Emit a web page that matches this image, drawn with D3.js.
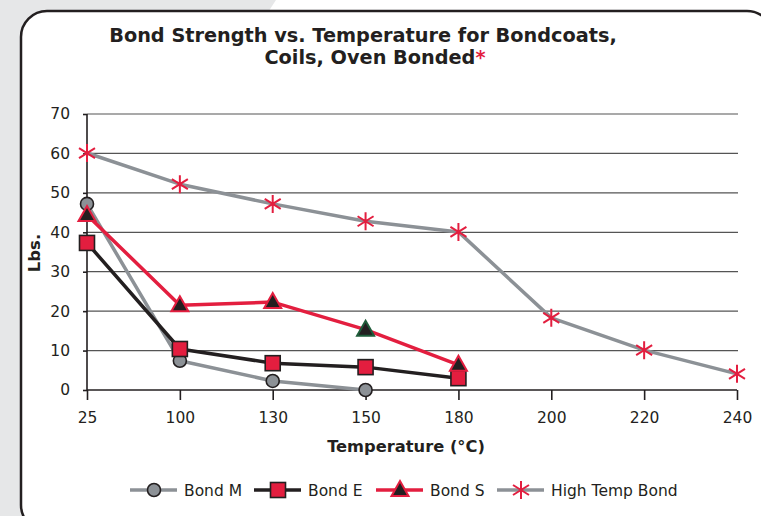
<!DOCTYPE html>
<html><head><meta charset="utf-8">
<script src="https://cdn.jsdelivr.net/npm/d3@7"></script>
<style>
html,body{margin:0;padding:0;background:#fff;}
svg{display:block;}
text{font-family:"DejaVu Sans",Verdana,sans-serif;fill:#231f20;}
</style></head>
<body>
<script>
const categories = ["25","100","130","150","180","200","220","240"];
const yTicks = [0,10,20,30,40,50,60,70];
const bondM = [47.2, 7.4, 2.3, 0];
const bondE = [37.3, 10.4, 6.8, 5.8, 3.0];
const bondS = [44.4, 21.5, 22.3, 15.3, 6.4];
const highTemp = [60.1, 52.2, 47.2, 42.8, 40.1, 18.3, 10.1, 4.1];
const seriesNames = ["Bond M","Bond E","Bond S","High Temp Bond"];

const W = 761, H = 516;
const RED = "#e31e3f", GREY = "#8c9196", DARK = "#231f20";
const svg = d3.select("body").append("svg").attr("width", W).attr("height", H);

// background
svg.append("path").attr("d", "M0,0 L276,0 L250,40 L22,516 L0,516 Z").attr("fill", "#e6e7e8");
svg.append("rect").attr("x", 21).attr("y", 11).attr("width", 752).attr("height", 520)
  .attr("rx", 26).attr("ry", 26).attr("fill", "#fff").attr("stroke", DARK).attr("stroke-width", 2.5);

const x = d3.scalePoint().domain(categories).range([87, 737]);
const y = d3.scaleLinear().domain([0, 70]).range([390, 114]);

// grid
svg.append("g").selectAll("line").data(yTicks.filter(d => d > 0)).join("line")
  .attr("x1", 87).attr("x2", 738).attr("y1", d => y(d)).attr("y2", d => y(d))
  .attr("stroke", "#555").attr("stroke-width", 1.2);

// axes
const gy = svg.append("g").attr("transform", "translate(87,0)")
  .call(d3.axisLeft(y).tickValues(yTicks).tickSize(4).tickPadding(13));
const gx = svg.append("g").attr("transform", "translate(0,390)")
  .call(d3.axisBottom(x).tickSize(10).tickPadding(12));
[gx, gy].forEach(g => {
  g.select(".domain").attr("stroke", DARK).attr("stroke-width", 1.6);
  g.selectAll(".tick line").attr("stroke", DARK).attr("stroke-width", 1.6);
  g.selectAll("text").attr("font-size", 15.5).attr("fill", DARK)
    .attr("font-family", "'DejaVu Sans',Verdana,sans-serif");
});
gx.select(".domain").attr("d", "M87,0H737");
gy.select(".domain").attr("d", "M0,390V114");

// titles
const title = svg.append("text").attr("font-weight", "bold").attr("font-size", 19.3);
title.append("tspan").attr("x", 363).attr("y", 42).attr("text-anchor", "middle")
  .text("Bond Strength vs. Temperature for Bondcoats,");
const t2 = svg.append("text").attr("font-weight", "bold").attr("font-size", 19.3)
  .attr("x", 375).attr("y", 64).attr("text-anchor", "middle");
t2.append("tspan").text("Coils, Oven Bonded");
t2.append("tspan").attr("fill", RED).style("fill", RED).text("*");

svg.append("text").attr("font-weight", "bold").attr("font-size", 16.5)
  .attr("transform", "translate(40,253) rotate(-90)").attr("text-anchor", "middle").text("Lbs.");
svg.append("text").attr("font-weight", "bold").attr("font-size", 16.3)
  .attr("x", 406).attr("y", 452).attr("text-anchor", "middle").text("Temperature (°C)");

// markers
function circleM(g) { g.append("circle").attr("r", 6.5).attr("fill", GREY).attr("stroke", DARK).attr("stroke-width", 1.6); }
function squareM(g) { g.append("rect").attr("x", -7.5).attr("y", -7.5).attr("width", 15).attr("height", 15).attr("fill", RED).attr("stroke", DARK).attr("stroke-width", 1.6); }
function triM(g, stroke) { g.append("path").attr("d", "M0,-9 L8.5,6 L-8.5,6 Z").attr("fill", DARK).attr("stroke", stroke || RED).attr("stroke-width", 2).attr("stroke-linejoin", "miter"); }
function starM(g) { g.append("path").attr("d", "M0,-9V9M-8,-5L8,5M-8,5L8,-5").attr("stroke", RED).attr("stroke-width", 2).attr("fill", "none"); }

const series = [
  {vals: bondM, line: GREY, marker: circleM},
  {vals: bondE, line: DARK, marker: squareM},
  {vals: bondS, line: RED, marker: triM},
  {vals: highTemp, line: GREY, marker: starM}
];
const line = d3.line().x((d, i) => x(categories[i])).y(d => y(d));
series.forEach(s => {
  svg.append("path").datum(s.vals).attr("d", line).attr("fill", "none")
    .attr("stroke", s.line).attr("stroke-width", 3.5).attr("stroke-linejoin", "round");
  s.vals.forEach((v, i) => {
    const g = svg.append("g").attr("transform", `translate(${x(categories[i])},${y(v)})`);
    if (s.marker === triM && i === 3) s.marker(g, "#1f5c3a"); else s.marker(g);
  });
});

// legend
const legX = [130, 254, 376, 497];
seriesNames.forEach((name, i) => {
  const g = svg.append("g").attr("transform", `translate(${legX[i]},490)`);
  g.append("line").attr("x1", 0).attr("x2", 47).attr("stroke", series[i].line).attr("stroke-width", 3.5);
  const m = g.append("g").attr("transform", "translate(24,0)");
  series[i].marker(m);
  g.append("text").attr("x", 54).attr("y", 5.5).attr("font-size", 15.5).text(name);
});
</script>
</body></html>
